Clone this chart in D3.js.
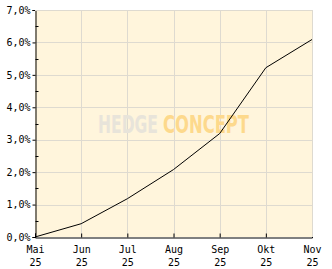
<!DOCTYPE html>
<html>
<head>
<meta charset="utf-8">
<script src="https://cdn.jsdelivr.net/npm/d3@7"></script>
<style>
  html, body { margin: 0; padding: 0; background: #fff; }
  svg { display: block; }
  text { font-family: "DejaVu Sans Mono", monospace; font-size: 10px; fill: #000; }
</style>
</head>
<body>
<svg id="chart"></svg>
<script>
const W = 332, H = 269;
const months = ["Mai", "Jun", "Jul", "Aug", "Sep", "Okt", "Nov"];
const years = ["25", "25", "25", "25", "25", "25", "25"];
const values = [0.0, 0.41, 1.18, 2.08, 3.19, 5.22, 6.09];
const yTicks = [0, 1, 2, 3, 4, 5, 6, 7];
const yMinor = [0.5, 1.5, 2.5, 3.5, 4.5, 5.5, 6.5];

const M = { left: 35, right: 20, top: 10, bottom: 32 };
const svg = d3.select("#chart").attr("width", W).attr("height", H);

const x = d3.scalePoint().domain(months).range([M.left, W - M.right]);
const y = d3.scaleLinear().domain([0, 7]).range([H - M.bottom, M.top]);
const fmt = v => d3.format(".1f")(v).replace(".", ",") + "%";

// plot background
svg.append("rect")
  .attr("x", M.left).attr("y", M.top)
  .attr("width", W - M.right - M.left).attr("height", H - M.bottom - M.top)
  .attr("fill", "#fff5dc");

// grid
const grid = svg.append("g").attr("stroke", "#dedad0").attr("stroke-width", 1).attr("shape-rendering", "crispEdges");
grid.selectAll("line.h").data(yTicks.slice(1)).join("line").attr("class", "h")
  .attr("x1", M.left).attr("x2", W - M.right)
  .attr("y1", d => Math.round(y(d)) + .5).attr("y2", d => Math.round(y(d)) + .5);
grid.selectAll("line.v").data(months.slice(1)).join("line").attr("class", "v")
  .attr("y1", M.top).attr("y2", H - M.bottom)
  .attr("x1", d => Math.round(x(d)) + .5).attr("x2", d => Math.round(x(d)) + .5);

// watermark, two words
const wmStyle = t => t
  .style("font-family", "'DejaVu Sans Condensed', 'DejaVu Sans', sans-serif")
  .style("font-weight", "bold").style("font-size", "24px")
  .attr("lengthAdjust", "spacingAndGlyphs");
wmStyle(svg.append("text").attr("x", 98).attr("y", 133).attr("textLength", 60).text("HEDGE"))
  .style("fill", "#e8e4da");
wmStyle(svg.append("text").attr("x", 163).attr("y", 133).attr("textLength", 86).text("CONCEPT"))
  .style("fill", "#fdd98c");

// line
svg.append("path")
  .datum(values)
  .attr("fill", "none").attr("stroke", "#000").attr("stroke-width", 1)
  .attr("d", d3.line().x((d, i) => x(months[i])).y(d => y(d)));

// y axis
const yAx = svg.append("g").attr("transform", `translate(${M.left + .5},0)`)
  .call(d3.axisLeft(y).tickValues(yTicks).tickFormat(fmt).tickSize(3).tickPadding(2));
yAx.selectAll("line.minor").data(yMinor).join("line").attr("class", "minor")
  .attr("x1", 0).attr("x2", 3)
  .attr("y1", d => Math.round(y(d)) + .5).attr("y2", d => Math.round(y(d)) + .5)
  .attr("stroke", "#000");

// x axis
const xAx = svg.append("g").attr("transform", `translate(0,${H - M.bottom + .5})`)
  .call(d3.axisBottom(x).tickSize(-4).tickFormat(""));
xAx.selectAll(".tick").each(function (d, i) {
  const t = d3.select(this).append("text").attr("text-anchor", "middle");
  t.append("tspan").attr("x", 0).attr("y", 15).text(d);
  t.append("tspan").attr("x", 0).attr("y", 28).text(years[i]);
});

svg.selectAll(".domain").attr("stroke", "#000");
svg.selectAll(".tick line").attr("stroke", "#000");
svg.selectAll(".tick text").style("font-family", "'DejaVu Sans Mono', monospace").style("font-size", "10px").attr("fill", "#000");

// top/right border
svg.append("path")
  .attr("d", `M${M.left},${M.top + .5}H${W - M.right + .5}V${H - M.bottom}`)
  .attr("fill", "none").attr("stroke", "#dedad0");
</script>
</body>
</html>
